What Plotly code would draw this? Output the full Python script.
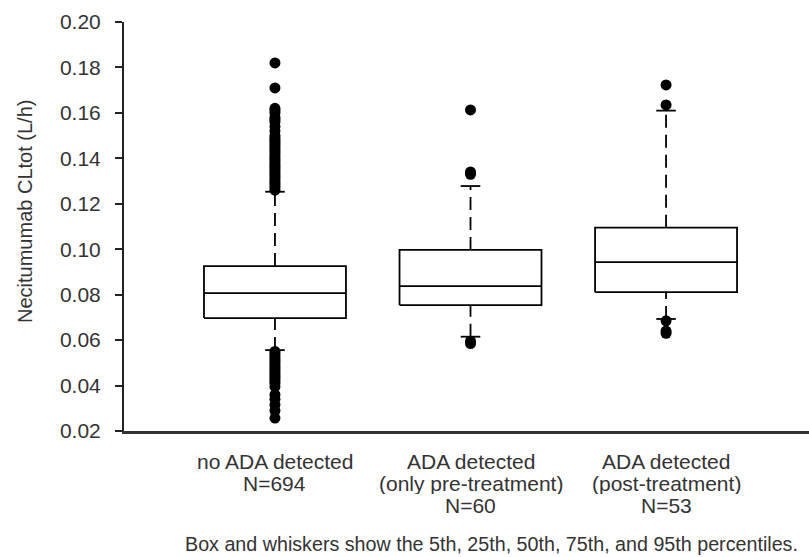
import plotly.graph_objects as go

# Group labels (one entry per text line) and sample sizes
groups = [
    ["no ADA detected", "N=694"],
    ["ADA detected", "(only pre-treatment)", "N=60"],
    ["ADA detected", "(post-treatment)", "N=53"],
]

# Percentiles of CLtot (L/h) per group
p5 = [0.0556, 0.0615, 0.0693]
p25 = [0.0697, 0.0754, 0.0811]
p50 = [0.0807, 0.0838, 0.0943]
p75 = [0.0926, 0.0997, 0.1095]
p95 = [0.1253, 0.1278, 0.1610]

# Individual values outside the 5th-95th percentile range
outliers_no_ada = [
    0.182, 0.171, 0.162, 0.161, 0.160, 0.158, 0.157, 0.156, 0.154, 0.152,
    0.150, 0.149, 0.148, 0.147, 0.146, 0.145, 0.144, 0.143, 0.142, 0.141,
    0.140, 0.139, 0.138, 0.137, 0.136, 0.135, 0.134, 0.133, 0.132, 0.131,
    0.130, 0.129, 0.128, 0.127, 0.126,
    0.055, 0.054, 0.053, 0.052, 0.051, 0.050, 0.049, 0.048, 0.047, 0.046,
    0.045, 0.044, 0.043, 0.042, 0.041, 0.0395, 0.036, 0.034, 0.0315,
    0.029, 0.0257,
]
outliers_pre = [0.1613, 0.1340, 0.1330, 0.0595, 0.0585]
outliers_post = [0.1723, 0.1635, 0.0685, 0.0640, 0.0630]
outliers = [outliers_no_ada, outliers_pre, outliers_post]

box_half = 0.363
cap_half = 0.05
ink = "black"
lw = 1.8

fig = go.Figure()

for i in range(len(groups)):
    # whiskers (dashed) from box edges to the 5th/95th percentiles
    for lo, hi in ((p75[i], p95[i]), (p5[i], p25[i])):
        fig.add_trace(go.Scatter(
            x=[i, i], y=[lo, hi], mode="lines",
            line=dict(color=ink, width=lw, dash="13px,7px"),
            hoverinfo="skip", showlegend=False))
    # whisker caps
    for v in (p5[i], p95[i]):
        fig.add_trace(go.Scatter(
            x=[i - cap_half, i + cap_half], y=[v, v], mode="lines",
            line=dict(color=ink, width=lw),
            hoverinfo="skip", showlegend=False))
    # box
    fig.add_trace(go.Scatter(
        x=[i - box_half, i + box_half, i + box_half, i - box_half, i - box_half],
        y=[p25[i], p25[i], p75[i], p75[i], p25[i]],
        mode="lines", fill="toself", fillcolor="white",
        line=dict(color=ink, width=lw),
        hoverinfo="skip", showlegend=False))
    # median
    fig.add_trace(go.Scatter(
        x=[i - box_half, i + box_half], y=[p50[i], p50[i]], mode="lines",
        line=dict(color=ink, width=lw),
        hoverinfo="skip", showlegend=False))
    # outlying points
    fig.add_trace(go.Scatter(
        x=[i] * len(outliers[i]), y=outliers[i], mode="markers",
        marker=dict(color=ink, size=11, symbol="circle"),
        showlegend=False))

font_family = "Liberation Sans, Arial, sans-serif"
text_color = "#333333"

# Category labels under the x axis, one annotation per line
plot_top, plot_bottom = 22, 431
plot_h = plot_bottom - plot_top
first_line_px, line_step_px = 30, 22
annotations = []
for i, lines in enumerate(groups):
    for k, line in enumerate(lines):
        annotations.append(dict(
            text=line, xref="x", yref="paper", x=i,
            y=-(first_line_px + k * line_step_px) / plot_h,
            xanchor="center", yanchor="middle", showarrow=False,
            height=line_step_px, borderpad=0,
            font=dict(size=21, color=text_color, family=font_family)))

annotations += [
    dict(text="Necitumumab CLtot (L/h)", textangle=-90,
         xref="paper", yref="paper", x=-0.1445, y=0.5355,
         xanchor="center", yanchor="middle", showarrow=False,
         font=dict(size=20, color=text_color, family=font_family)),
    dict(text="Box and whiskers show the 5th, 25th, 50th, 75th, and 95th percentiles.",
         xref="paper", yref="paper", x=0.536, y=-(544 - plot_bottom) / plot_h,
         xanchor="center", yanchor="middle", showarrow=False,
         font=dict(size=19.7, color=text_color, family=font_family)),
]

fig.update_layout(
    width=809, height=557, autosize=False,
    margin=dict(l=124, r=0, t=plot_top, b=557 - plot_bottom),
    plot_bgcolor="white", paper_bgcolor="white",
    font=dict(family=font_family, color=text_color),
    xaxis=dict(
        range=[-0.772, 2.731],
        showticklabels=False, ticks="",
        showline=True, linewidth=2.5, linecolor="#333333",
        showgrid=False, zeroline=False,
    ),
    yaxis=dict(
        range=[0.02, 0.20], dtick=0.02, tick0=0.02, tickformat=".2f",
        ticks="outside", ticklen=7, tickwidth=2, tickcolor="#222222",
        showline=True, linewidth=2, linecolor="#222222",
        showgrid=False, zeroline=False,
        ticklabelstandoff=10,
        tickfont=dict(size=21, color=text_color, family=font_family),
    ),
    annotations=annotations,
)

fig.write_html("out.html")
